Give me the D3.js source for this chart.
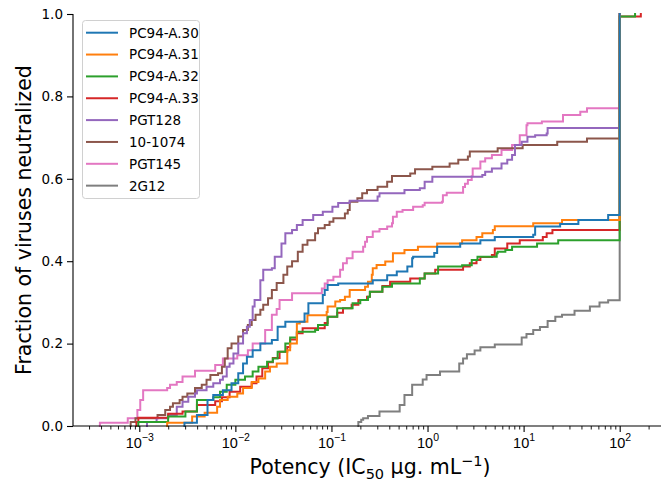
<!DOCTYPE html>
<html><head><meta charset="utf-8">
<script src="https://cdn.jsdelivr.net/npm/d3@7"></script>
<style>
html,body{margin:0;padding:0;background:#fff;}
svg{display:block;font-family:"DejaVu Sans",sans-serif;}
</style></head>
<body>
<svg id="chart" width="661" height="481"></svg>
<script>
// Series: [log10 IC50 (µg/mL), cumulative fraction neutralized]
const seriesNames = ["PC94-A.30","PC94-A.31","PC94-A.32","PC94-A.33","PGT128","10-1074","PGT145","2G12"];
const seriesColors = ["#1f77b4","#ff7f0e","#2ca02c","#d62728","#9467bd","#8c564b","#e377c2","#7f7f7f"];

const PC94_A30 = [[-2.53,0],[-2.53,.008],[-2.40,.027],[-2.29,.063],[-2.23,.075],[-2.13,.087],[-2.04,.104],[-1.97,.128],[-1.92,.152],[-1.88,.168],[-1.82,.184],[-1.74,.2],[-1.62,.209],[-1.56,.241],[-1.48,.253],[-1.28,.273],[-1.24,.298],[-1.09,.318],[-1.07,.33],[-1.04,.342],[-0.93,.346],[-0.57,.354],[-0.42,.366],[-0.32,.375],[-0.21,.387],[-0.16,.407],[-0.15,.411],[0.07,.42],[0.10,.435],[0.34,.443],[0.55,.451],[0.70,.459],[1.10,.464],[1.12,.484],[1.38,.49],[1.57,.5],[1.88,.512],[2.0,1.0]];
const PC94_A31 = [[-2.71,0],[-2.71,.008],[-2.45,.023],[-2.32,.032],[-2.19,.047],[-2.16,.063],[-2.08,.071],[-1.98,.079],[-1.92,.092],[-1.83,.107],[-1.76,.115],[-1.69,.132],[-1.64,.144],[-1.57,.152],[-1.46,.184],[-1.43,.2],[-1.36,.249],[-1.33,.253],[-1.25,.269],[-1.05,.277],[-1.04,.29],[-0.96,.302],[-0.91,.306],[-0.86,.314],[-0.81,.33],[-0.65,.338],[-0.62,.35],[-0.58,.367],[-0.57,.383],[-0.53,.391],[-0.44,.399],[-0.36,.419],[-0.24,.427],[-0.10,.435],[0.10,.443],[0.36,.451],[0.51,.459],[0.57,.468],[0.68,.476],[0.70,.485],[1.10,.492],[1.40,.5],[2.0,1.0]];
const PC94_A32 = [[-3.01,0],[-3.01,.01],[-2.70,.023],[-2.52,.035],[-2.40,.063],[-2.23,.07],[-2.16,.083],[-2.09,.1],[-2.00,.112],[-1.90,.12],[-1.82,.132],[-1.76,.144],[-1.67,.156],[-1.61,.164],[-1.56,.18],[-1.48,.2],[-1.43,.215],[-1.36,.229],[-1.17,.233],[-1.14,.245],[-1.04,.265],[-0.94,.286],[-0.78,.298],[-0.70,.306],[-0.62,.314],[-0.60,.326],[-0.47,.338],[-0.37,.346],[-0.08,.358],[-0.03,.37],[0.11,.387],[0.36,.39],[0.46,.403],[0.52,.411],[0.72,.419],[0.73,.423],[0.81,.427],[0.88,.435],[1.14,.443],[1.36,.451],[2.0,.994],[2.16,1.0]];
const PC94_A33 = [[-3.03,0],[-3.03,.01],[-3.01,.02],[-2.70,.03],[-2.55,.035],[-2.40,.051],[-2.21,.06],[-2.14,.07],[-2.06,.083],[-1.95,.095],[-1.83,.104],[-1.78,.12],[-1.72,.14],[-1.66,.155],[-1.61,.165],[-1.54,.18],[-1.46,.192],[-1.43,.21],[-1.36,.225],[-1.30,.237],[-1.07,.25],[-1.04,.265],[-0.94,.275],[-0.88,.286],[-0.79,.294],[-0.72,.306],[-0.63,.314],[-0.60,.326],[-0.47,.34],[-0.39,.35],[-0.18,.358],[-0.03,.37],[0.08,.379],[0.37,.387],[0.44,.395],[0.51,.403],[0.55,.41],[0.67,.415],[0.70,.431],[0.83,.443],[0.96,.451],[1.20,.459],[1.24,.468],[1.30,.476],[2.0,.994],[2.22,1.0]];
const PGT128 = [[-2.92,0],[-2.92,.01],[-2.82,.019],[-2.70,.027],[-2.61,.047],[-2.55,.059],[-2.49,.071],[-2.42,.079],[-2.40,.087],[-2.30,.095],[-2.23,.104],[-2.16,.112],[-2.13,.12],[-2.09,.144],[-2.06,.152],[-2.02,.176],[-1.97,.2],[-1.92,.225],[-1.88,.241],[-1.85,.257],[-1.82,.29],[-1.80,.306],[-1.74,.354],[-1.71,.379],[-1.62,.383],[-1.59,.411],[-1.52,.443],[-1.48,.468],[-1.41,.476],[-1.36,.488],[-1.30,.5],[-1.19,.512],[-1.09,.52],[-0.99,.532],[-0.93,.541],[-0.81,.547],[-0.52,.557],[-0.50,.565],[-0.24,.573],[-0.08,.577],[-0.03,.593],[0.05,.605],[0.57,.609],[0.60,.617],[0.67,.625],[0.77,.637],[0.83,.646],[0.88,.658],[0.91,.682],[0.98,.69],[1.04,.702],[1.12,.706],[1.24,.71],[1.25,.723],[2.0,1.0]];
const MAB_10_1074 = [[-3.09,0],[-3.09,.01],[-3.04,.019],[-2.81,.027],[-2.73,.039],[-2.68,.047],[-2.65,.055],[-2.58,.063],[-2.55,.071],[-2.50,.079],[-2.42,.092],[-2.35,.1],[-2.30,.112],[-2.26,.124],[-2.18,.128],[-2.14,.144],[-2.11,.164],[-2.08,.189],[-2.04,.2],[-1.97,.217],[-1.92,.233],[-1.87,.245],[-1.83,.257],[-1.79,.27],[-1.74,.282],[-1.71,.294],[-1.66,.31],[-1.62,.33],[-1.57,.347],[-1.50,.367],[-1.46,.387],[-1.41,.4],[-1.35,.423],[-1.30,.44],[-1.25,.451],[-1.17,.468],[-1.14,.48],[-1.07,.488],[-1.02,.496],[-0.98,.504],[-0.86,.516],[-0.83,.524],[-0.81,.544],[-0.73,.553],[-0.68,.565],[-0.63,.573],[-0.52,.581],[-0.42,.593],[-0.37,.607],[-0.18,.613],[-0.13,.623],[0.05,.629],[0.23,.637],[0.32,.646],[0.42,.654],[0.44,.666],[0.73,.674],[0.99,.682],[1.35,.69],[1.66,.698],[2.0,1.0]];
const PGT145 = [[-3.41,0],[-3.41,.008],[-3.12,.019],[-3.02,.039],[-2.99,.063],[-2.96,.087],[-2.71,.092],[-2.68,.1],[-2.61,.107],[-2.55,.12],[-2.42,.134],[-2.21,.148],[-2.13,.164],[-1.98,.172],[-1.87,.184],[-1.82,.2],[-1.69,.233],[-1.62,.27],[-1.57,.284],[-1.54,.306],[-1.41,.322],[-1.10,.334],[-1.07,.346],[-1.04,.354],[-0.98,.362],[-0.91,.379],[-0.88,.395],[-0.84,.407],[-0.78,.423],[-0.67,.435],[-0.65,.447],[-0.63,.459],[-0.57,.472],[-0.50,.478],[-0.42,.484],[-0.37,.492],[-0.36,.508],[-0.32,.52],[-0.26,.524],[-0.15,.532],[-0.05,.536],[-0.03,.542],[0.15,.544],[0.16,.56],[0.20,.566],[0.37,.58],[0.39,.588],[0.42,.597],[0.46,.606],[0.47,.625],[0.55,.642],[0.60,.65],[0.67,.658],[0.77,.67],[0.88,.682],[0.96,.706],[1.03,.73],[1.04,.735],[1.19,.739],[1.41,.755],[1.59,.763],[1.66,.771],[2.0,1.0]];
const MAB_2G12 = [[-0.72,0],[-0.72,.01],[-0.69,.015],[-0.67,.019],[-0.62,.024],[-0.50,.035],[-0.29,.051],[-0.24,.075],[-0.16,.1],[-0.05,.113],[-0.01,.124],[0.13,.132],[0.33,.152],[0.37,.164],[0.41,.174],[0.49,.183],[0.55,.191],[0.70,.198],[0.98,.215],[1.03,.223],[1.10,.233],[1.17,.24],[1.25,.255],[1.33,.265],[1.40,.27],[1.53,.28],[1.69,.29],[1.79,.3],[1.88,.305],[2.0,1.0]];
const seriesData = [PC94_A30, PC94_A31, PC94_A32, PC94_A33, PGT128, MAB_10_1074, PGT145, MAB_2G12];

const yTicks = [0, 0.2, 0.4, 0.6, 0.8, 1.0];
const xMajorExps = [-3, -2, -1, 0, 1, 2];

(function () {
const svg = d3.select("#chart");
const mLeft = 73, mRight = 661, mTop = 14, mBottom = 426;

const x = d3.scaleLog().domain([Math.pow(10,-3.69), Math.pow(10,2.43)]).range([mLeft, mRight]);
const y = d3.scaleLinear().domain([0, 1]).range([mBottom, mTop]);

// lines (drawn in reverse so the first series sits on top)
const line = d3.line().x(d => x(Math.pow(10, d[0]))).y(d => y(d[1])).curve(d3.curveStepAfter);
const order = d3.range(seriesData.length).reverse();
svg.append("g").selectAll("path").data(order).join("path")
  .attr("d", i => line(seriesData[i]))
  .attr("fill", "none")
  .attr("stroke", i => seriesColors[i])
  .attr("stroke-width", 2)
  .attr("stroke-linejoin", "miter")
  .attr("stroke-linecap", "square");

// y axis
const yAxis = d3.axisLeft(y).tickValues(yTicks).tickFormat(d3.format(".1f")).tickSize(6).tickPadding(4);
const gy = svg.append("g").attr("transform", `translate(${mLeft},0)`).call(yAxis);
gy.select(".domain").attr("stroke", "#000").attr("stroke-width", 1.1).attr("d", `M0,${mBottom}V${mTop}`);
gy.selectAll(".tick line").attr("stroke", "#000").attr("stroke-width", 1.1);
gy.selectAll(".tick text").attr("font-size", 13.5).attr("fill", "#000").attr("font-family", "DejaVu Sans");

// x axis
const [d0, d1] = x.domain();
const minorTicks = [];
for (let e = -4; e <= 2; e++) for (let k = 2; k <= 9; k++) {
  const v = k * Math.pow(10, e);
  if (v >= d0 && v <= d1) minorTicks.push(v);
}
const gxm = svg.append("g").attr("transform", `translate(0,${mBottom})`)
  .call(d3.axisBottom(x).tickValues(minorTicks).tickSize(3.5).tickFormat(""));
gxm.select(".domain").remove();
gxm.selectAll(".tick line").attr("stroke", "#000").attr("stroke-width", 0.9);

const majors = xMajorExps.map(e => Math.pow(10, e));
const gx = svg.append("g").attr("transform", `translate(0,${mBottom})`)
  .call(d3.axisBottom(x).tickValues(majors).tickSize(6).tickFormat(""));
gx.select(".domain").attr("stroke", "#000").attr("stroke-width", 1.1).attr("d", `M${mLeft},0H${mRight}`);
gx.selectAll(".tick line").attr("stroke", "#000").attr("stroke-width", 1.1);
gx.selectAll(".tick").each(function(d, i) {
  const t = d3.select(this).append("text").attr("y", 21.5).attr("text-anchor", "middle")
    .attr("font-size", 14.5).attr("fill", "#000");
  t.append("tspan").text("10");
  t.append("tspan").attr("dy", -6.5).attr("font-size", 10.5).text(xMajorExps[i] < 0 ? "\u2212" + Math.abs(xMajorExps[i]) : String(xMajorExps[i]));
});

// axis labels
const xl = svg.append("text").attr("x", 370).attr("y", 474).attr("text-anchor", "middle")
  .attr("font-size", 20.5).attr("fill", "#000");
xl.append("tspan").text("Potency (IC");
xl.append("tspan").attr("dy", 4.5).attr("font-size", 14.5).text("50");
xl.append("tspan").attr("dy", -4.5).text(" \u03bcg. mL");
xl.append("tspan").attr("dy", -8).attr("font-size", 14.5).text("\u22121");
xl.append("tspan").attr("dy", 8).text(")");

svg.append("text").attr("transform", `translate(31,${(mTop + mBottom) / 2}) rotate(-90)`)
  .attr("text-anchor", "middle").attr("font-size", 20.5).attr("fill", "#000")
  .text("Fraction of viruses neutralized");

// legend
const lg = svg.append("g");
lg.append("rect").attr("x", 82.5).attr("y", 20.5).attr("width", 117).attr("height", 178)
  .attr("rx", 3).attr("fill", "#fff").attr("fill-opacity", 0.8).attr("stroke", "#d0d0d0");
seriesNames.forEach((name, i) => {
  const cy = 32.7 + i * 21.85;
  lg.append("line").attr("x1", 86).attr("x2", 118).attr("y1", cy).attr("y2", cy)
    .attr("stroke", seriesColors[i]).attr("stroke-width", 2);
  lg.append("text").attr("x", 129).attr("y", cy).attr("dy", "0.36em")
    .attr("font-size", 13.5).attr("fill", "#000").text(name);
});
})();
</script>
</body></html>
